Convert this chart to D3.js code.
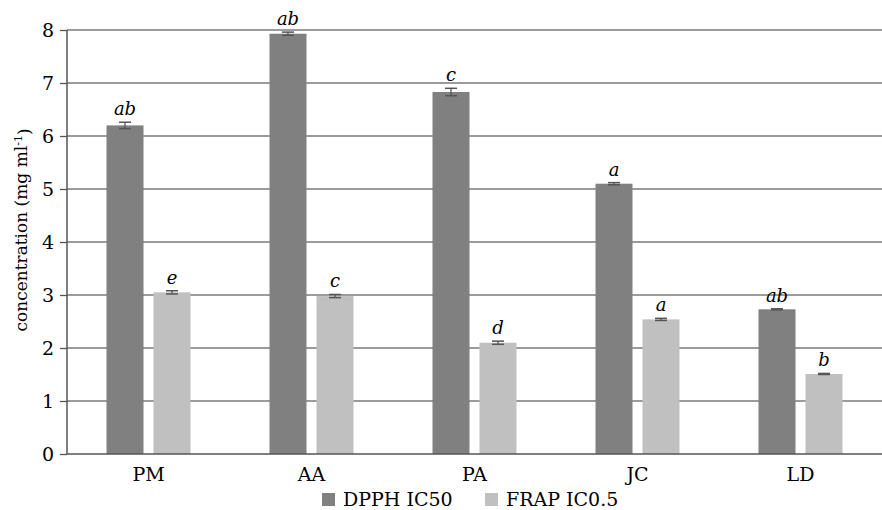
<!DOCTYPE html>
<html>
<head>
<meta charset="utf-8">
<script src="https://cdn.jsdelivr.net/npm/d3@7"></script>
<style>
  body { margin: 0; background: #fff; }
  svg text { font-family: "DejaVu Serif", serif; fill: #000; }
</style>
</head>
<body>
<svg id="chart"></svg>
<script>
// data
const categories = ['PM', 'AA', 'PA', 'JC', 'LD'];
const seriesNames = ['DPPH IC50', 'FRAP IC0.5'];
const dpph = [6.20, 7.93, 6.83, 5.10, 2.73];
const dpphErr = [0.06, 0.03, 0.07, 0.02, 0.01];
const frap = [3.05, 2.98, 2.10, 2.54, 1.51];
const frapErr = [0.03, 0.03, 0.03, 0.02, 0.01];
const dpphLetters = ['ab', 'ab', 'c', 'a', 'ab'];
const frapLetters = ['e', 'c', 'd', 'a', 'b'];
const yTicks = [0, 1, 2, 3, 4, 5, 6, 7, 8];

const W = 882, H = 510;
const margin = {top: 30, right: 0, bottom: 56, left: 67};
const width = W - margin.left - margin.right,
      height = 454 - margin.top;
const colors = ['#808080', '#c0c0c0'];

const svg = d3.select('#chart').attr('width', W).attr('height', H);
const g = svg.append('g').attr('transform', 'translate(' + margin.left + ',' + margin.top + ')');

const y = d3.scaleLinear().domain([0, 8]).range([height, 0]);
const x = d3.scaleBand().domain(categories).range([0, width]);
const barW = 37, gap = 10;

// gridlines
g.selectAll('line.grid')
  .data(yTicks.filter(d => d > 0))
  .enter().append('line')
  .attr('class', 'grid')
  .attr('x1', 0).attr('x2', width)
  .attr('y1', d => y(d)).attr('y2', d => y(d))
  .attr('stroke', '#7a7a7a').attr('stroke-width', 1.3);

const yAxis = d3.axisLeft(y).tickValues(yTicks).tickSize(7).tickPadding(6).tickFormat(d3.format('d'));
const yg = g.append('g').call(yAxis);
yg.select('.domain').remove();
yg.selectAll('line').attr('stroke', '#555').attr('stroke-width', 1.3);
yg.selectAll('text').style('font-size', '19px').attr('dy', '0.36em');

g.append('line').attr('x1', 0).attr('x2', 0).attr('y1', 0).attr('y2', height)
  .attr('stroke', '#555').attr('stroke-width', 1.5);

const rows = categories.map((c, i) => ({
  cat: c,
  vals: [
    {s: 0, v: dpph[i], e: dpphErr[i], l: dpphLetters[i]},
    {s: 1, v: frap[i], e: frapErr[i], l: frapLetters[i]}
  ]
}));

const grp = g.selectAll('g.cat').data(rows).enter().append('g')
  .attr('class', 'cat')
  .attr('transform', d => 'translate(' + (x(d.cat) + x.bandwidth() / 2) + ',0)');

const bx = s => s === 0 ? -gap / 2 - barW : gap / 2;

const bars = grp.selectAll('g.bar').data(d => d.vals).enter().append('g').attr('class', 'bar');

bars.append('rect')
  .attr('x', d => bx(d.s))
  .attr('y', d => y(d.v))
  .attr('width', barW)
  .attr('height', d => height - y(d.v))
  .attr('fill', d => colors[d.s]);

const cx = d => bx(d.s) + barW / 2;
bars.append('line')
  .attr('x1', cx).attr('x2', cx)
  .attr('y1', d => y(d.v + d.e)).attr('y2', d => y(d.v - d.e))
  .attr('stroke', '#555').attr('stroke-width', 1.3);
bars.selectAll('line.cap').data(d => [
    {d: d, v: d.v + d.e}, {d: d, v: d.v - d.e}])
  .enter().append('line').attr('class', 'cap')
  .attr('x1', c => cx(c.d) - 6).attr('x2', c => cx(c.d) + 6)
  .attr('y1', c => y(c.v)).attr('y2', c => y(c.v))
  .attr('stroke', '#555').attr('stroke-width', 1.5);

bars.append('text')
  .attr('x', cx)
  .attr('y', d => y(d.v + d.e) - 7)
  .attr('text-anchor', 'middle')
  .style('font-size', '18px')
  .style('font-style', 'italic')
  .text(d => d.l);

// x axis
g.append('line').attr('x1', 0).attr('x2', width).attr('y1', height).attr('y2', height)
  .attr('stroke', '#555').attr('stroke-width', 1.5);
g.selectAll('text.xl').data(categories).enter().append('text')
  .attr('class', 'xl')
  .attr('x', d => x(d) + x.bandwidth() / 2)
  .attr('y', height + 27)
  .attr('text-anchor', 'middle')
  .style('font-size', '19px')
  .text(d => d);

// y title
const yt = svg.append('text')
  .attr('transform', 'translate(27,230) rotate(-90)')
  .attr('text-anchor', 'middle')
  .style('font-size', '17px');
yt.append('tspan').text('concentration (mg ml');
yt.append('tspan').attr('dy', '-0.45em').style('font-size', '11px').text('-1');
yt.append('tspan').attr('dy', '0.45em').text(')');

// legend
const legX = [322, 485];
const leg = svg.selectAll('g.leg').data(seriesNames).enter().append('g')
  .attr('class', 'leg')
  .attr('transform', (d, i) => 'translate(' + legX[i] + ',493)');
leg.append('rect').attr('width', 13).attr('height', 13).attr('fill', (d, i) => colors[i]);
leg.append('text').attr('x', 21).attr('y', 13).style('font-size', '19px').text(d => d);
</script>
</body>
</html>
